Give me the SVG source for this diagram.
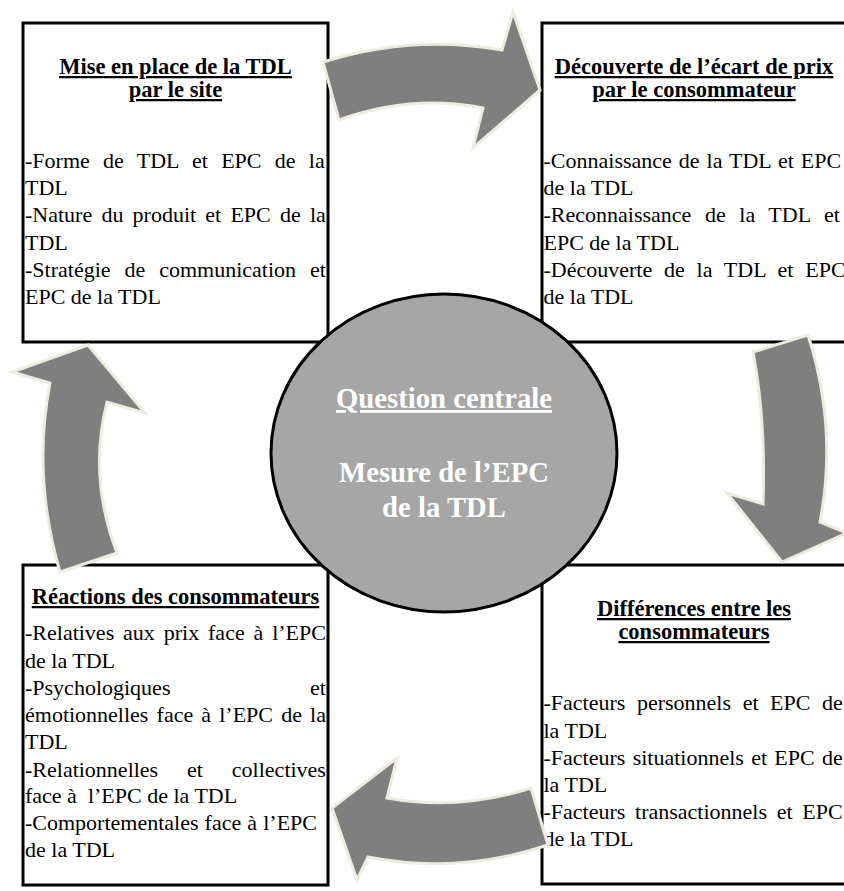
<svg xmlns="http://www.w3.org/2000/svg" width="844" height="891" viewBox="0 0 844 891">
<style>
.box{fill:#fff;stroke:#000;stroke-width:3}
text{font-family:'Liberation Serif','Times New Roman','DejaVu Serif',serif}
.title{font-weight:bold;font-size:22.5px;text-anchor:middle;text-decoration:underline;fill:#000}
.body{font-size:22px;fill:#000}
.ctext{font-weight:bold;font-size:28.7px;text-anchor:middle;fill:#fff}
.arrow{fill:#7f7f7f;stroke:#eeece1;stroke-width:3;stroke-linejoin:miter}
</style>
<rect width="844" height="891" fill="#fff"/>
<g id="box-tl" font-family="Liberation Serif, serif">
<rect class="box" x="23" y="23" width="305" height="319"/>
<text class="title" x="175.5" y="74">Mise en place de la TDL</text>
<text class="title" x="175.5" y="97">par le site</text>
<text class="body" x="25" y="168" word-spacing="7.8">-Forme de TDL et EPC de la</text>
<text class="body" x="25" y="195">TDL</text>
<text class="body" x="25" y="222" word-spacing="3.7">-Nature du produit et EPC de la</text>
<text class="body" x="25" y="250">TDL</text>
<text class="body" x="25" y="277" word-spacing="8.45">-Stratégie de communication et</text>
<text class="body" x="25" y="304">EPC de la TDL</text>
</g>
<g id="box-tr" font-family="Liberation Serif, serif">
<rect class="box" x="542" y="23" width="306" height="319"/>
<text class="title" x="694" y="74">Découverte de l’écart de prix</text>
<text class="title" x="694" y="97">par le consommateur</text>
<text class="body" x="543.5" y="168" word-spacing="1.5">-Connaissance de la TDL et EPC</text>
<text class="body" x="543.5" y="195">de la TDL</text>
<text class="body" x="543.5" y="222" word-spacing="8.1">-Reconnaissance de la TDL et</text>
<text class="body" x="543.5" y="250">EPC de la TDL</text>
<text class="body" x="543.5" y="277" word-spacing="6.3">-Découverte de la TDL et EPC</text>
<text class="body" x="543.5" y="304">de la TDL</text>
</g>
<g id="box-bl" font-family="Liberation Serif, serif">
<rect class="box" x="23" y="565" width="305" height="320"/>
<text class="title" x="175.5" y="604">Réactions des consommateurs</text>
<text class="body" x="25" y="640" word-spacing="3.38">-Relatives aux prix face à l’EPC</text>
<text class="body" x="25" y="668">de la TDL</text>
<text class="body" y="695"><tspan x="25">-Psychologiques</tspan><tspan x="326" text-anchor="end">et</tspan></text>
<text class="body" x="25" y="722" word-spacing="2.64">émotionnelles face à l’EPC de la</text>
<text class="body" x="25" y="749">TDL</text>
<text class="body" x="25" y="777" word-spacing="23.4">-Relationnelles et collectives</text>
<text class="body" x="25" y="803" style="white-space:pre">face à  l’EPC de la TDL</text>
<text class="body" x="25" y="830" word-spacing="0.6">-Comportementales face à l’EPC</text>
<text class="body" x="25" y="857">de la TDL</text>
</g>
<g id="box-br" font-family="Liberation Serif, serif">
<rect class="box" x="542" y="565" width="306" height="319"/>
<text class="title" x="694" y="616">Différences entre les</text>
<text class="title" x="694" y="639">consommateurs</text>
<text class="body" x="543.5" y="710" word-spacing="6.1">-Facteurs personnels et EPC de</text>
<text class="body" x="543.5" y="738">la TDL</text>
<text class="body" x="543.5" y="765" word-spacing="1.8">-Facteurs situationnels et EPC de</text>
<text class="body" x="543.5" y="792">la TDL</text>
<text class="body" x="543.5" y="819" word-spacing="4.2">-Facteurs transactionnels et EPC</text>
<text class="body" x="543.5" y="846">de la TDL</text>
</g>
<g id="center" font-family="Liberation Serif, serif">
<ellipse cx="444" cy="453" rx="173" ry="159" fill="#a6a6a6" stroke="#000" stroke-width="3"/>
<text class="ctext" x="444" y="408" text-decoration="underline">Question centrale</text>
<text class="ctext" x="444" y="482">Mesure de l’EPC</text>
<text class="ctext" x="444" y="517">de la TDL</text>
</g>
<g id="connectors">
<path class="arrow" d="M323,62 Q412,34 502,50 L513,12 L540,90 L473,148 L483,108 Q411,94 339,120 Z"/>
<path class="arrow" d="M753,352 L808,335 Q838,428 820,522 L847,533 L782,562 L727,493 L763,504 Q766,420 753,352 Z"/>
<path class="arrow" d="M531,788 Q459,811 387,798 L397,758 L332,808 L357,880 L368,857 Q458,875 548,845 Z"/>
<path class="arrow" d="M88,345 L145,413 L107,402 Q88,477 117,553 L60,572 Q32,476 50,383 L12,372 Z"/>
</g>
</svg>
